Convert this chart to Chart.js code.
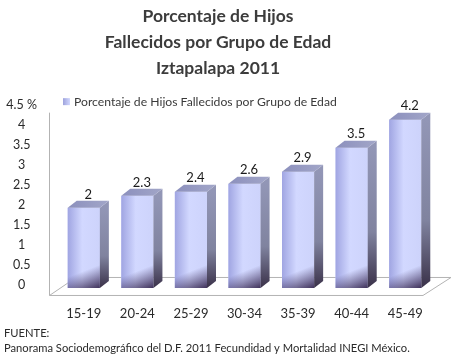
<!DOCTYPE html>
<html>
<head>
<meta charset="utf-8">
<script src="https://cdn.jsdelivr.net/npm/chart.js@4.4.1/dist/chart.umd.min.js"></script>
<style>
  html, body { margin: 0; padding: 0; background: #fff; }
  #wrap { width: 456px; height: 364px; }
</style>
</head>
<body>
<div id="wrap"><canvas id="myChart"></canvas></div>
<script>
const grupos = ['15-19', '20-24', '25-29', '30-34', '35-39', '40-44', '45-49'];
const porcentajes = [2, 2.3, 2.4, 2.6, 2.9, 3.5, 4.2];
const serieNombre = 'Porcentaje de Hijos Fallecidos por Grupo de Edad';
const titulo = ['Porcentaje de Hijos', 'Fallecidos por Grupo de Edad', 'Iztapalapa 2011'];
const fuente = ['FUENTE:', 'Panorama Sociodemográfico del D.F. 2011 Fecundidad y Mortalidad INEGI México.'];

const DX = 9, DY = 7;   // 3d depth of the bars

// floor, wall edge, legend and the 3d faces of the bars
const bars3d = {
  id: 'bars3d',
  beforeDatasetsDraw(chart) {
    const {ctx, chartArea: a} = chart;
    ctx.save();
    ctx.strokeStyle = '#b3b3b3';
    ctx.lineWidth = 1;
    ctx.beginPath();
    ctx.moveTo(a.left - 7.5, a.top + 5);
    ctx.lineTo(a.left - 7.5, a.bottom + 7.5);
    ctx.lineTo(a.right - 9, a.bottom + 7.5);
    ctx.lineTo(a.right + 19, a.bottom - 10.5);
    ctx.lineTo(a.left + 19, a.bottom - 10.5);
    ctx.lineTo(a.left - 7.5, a.bottom + 7.5);
    ctx.stroke();
    ctx.restore();
  },
  afterDatasetsDraw(chart) {
    const {ctx} = chart;
    const meta = chart.getDatasetMeta(0);
    ctx.save();
    meta.data.forEach((bar, i) => {
      const w = bar.width;
      const l = bar.x - w / 2, r = bar.x + w / 2;
      const t = bar.y, b = bar.base;

      // front face
      let g = ctx.createLinearGradient(l, 0, r, 0);
      g.addColorStop(0, '#a0a5e2');
      g.addColorStop(0.45, '#d2d8ff');
      g.addColorStop(1, '#cdd3fb');
      ctx.fillStyle = g;
      ctx.fillRect(l, t, w, b - t);
      // dark corner at bottom right
      g = ctx.createLinearGradient(r - w * 0.55, b - 45, r, b);
      g.addColorStop(0, 'rgba(70,55,100,0)');
      g.addColorStop(0.55, 'rgba(70,55,100,0)');
      g.addColorStop(1, 'rgba(55,40,80,0.95)');
      ctx.fillStyle = g;
      ctx.fillRect(l, t, w, b - t);

      // side face
      g = ctx.createLinearGradient(0, t, 0, b);
      g.addColorStop(0, '#9296b6');
      g.addColorStop(0.6, '#80839f');
      g.addColorStop(1, '#3a3149');
      ctx.fillStyle = g;
      ctx.beginPath();
      ctx.moveTo(r, t);
      ctx.lineTo(r + DX, t - DY);
      ctx.lineTo(r + DX, b - DY);
      ctx.lineTo(r, b);
      ctx.closePath();
      ctx.fill();

      // top face
      g = ctx.createLinearGradient(l, 0, r + DX, 0);
      g.addColorStop(0, '#8c90bd');
      g.addColorStop(1, '#a2a6c8');
      ctx.fillStyle = g;
      ctx.beginPath();
      ctx.moveTo(l, t);
      ctx.lineTo(l + DX, t - DY);
      ctx.lineTo(r + DX, t - DY);
      ctx.lineTo(r, t);
      ctx.closePath();
      ctx.fill();

      // value label
      ctx.fillStyle = '#1a1a1a';
      ctx.font = '13px Lato';
      ctx.textAlign = 'center';
      ctx.textBaseline = 'bottom';
      ctx.fillText(String(porcentajes[i]), bar.x + DX / 2, t - DY);
    });

    // legend
    const a = chart.chartArea;
    const lx = a.left + 6, ly = a.top - 6;
    const lg = ctx.createLinearGradient(lx, 0, lx + 7, 0);
    lg.addColorStop(0, '#9ea3dc');
    lg.addColorStop(1, '#d2d8ff');
    ctx.fillStyle = lg;
    ctx.fillRect(lx, ly - 3.5, 7, 7);
    ctx.fillStyle = '#3a3a3a';
    ctx.font = '12.2px Lato';
    ctx.textAlign = 'left';
    ctx.textBaseline = 'middle';
    ctx.fillText(serieNombre, lx + 11, ly);
    ctx.restore();
  }
};

new Chart(document.getElementById('myChart'), {
  type: 'bar',
  data: {
    labels: grupos,
    datasets: [{
      label: serieNombre,
      data: porcentajes,
      backgroundColor: '#cdd3fb',
      categoryPercentage: 1,
      barPercentage: 0.6
    }]
  },
  options: {
    responsive: true,
    maintainAspectRatio: false,
    animation: false,
    layout: { padding: { left: 4, right: 24, top: 0, bottom: 0 } },
    plugins: {
      legend: { display: false },
      tooltip: { enabled: false },
      title: {
        display: true,
        text: titulo,
        color: '#3c3c3c',
        font: { family: 'Lato', size: 17.5, weight: 'bold', lineHeight: 1.46 },
        padding: { top: 4, bottom: 27 }
      },
      subtitle: {
        display: true,
        position: 'bottom',
        align: 'start',
        text: fuente,
        color: '#2a2a2a',
        font: { family: 'Lato', size: 11.2, lineHeight: 1.34 },
        padding: { top: 2, bottom: 8 }
      }
    },
    scales: {
      x: {
        grid: { display: false, drawTicks: false },
        border: { display: false },
        ticks: { color: '#2a2a2a', font: { family: 'Lato', size: 13 }, padding: 18 },
        afterFit: (scale) => { scale.height = 36; }
      },
      y: {
        min: 0,
        max: 4.5,
        grid: { display: false, drawTicks: false },
        border: { display: false },
        ticks: {
          stepSize: 0.5,
          color: '#2a2a2a',
          font: { family: 'Lato', size: 12.5 },
          padding: 20,
          crossAlign: 'center',
          labelOffset: -3,
          callback: (v) => v === 4.5 ? '4.5 %' : v
        },
        afterFit: (scale) => { scale.width = 53; }
      }
    }
  },
  plugins: [bars3d]
});
</script>
</body>
</html>
